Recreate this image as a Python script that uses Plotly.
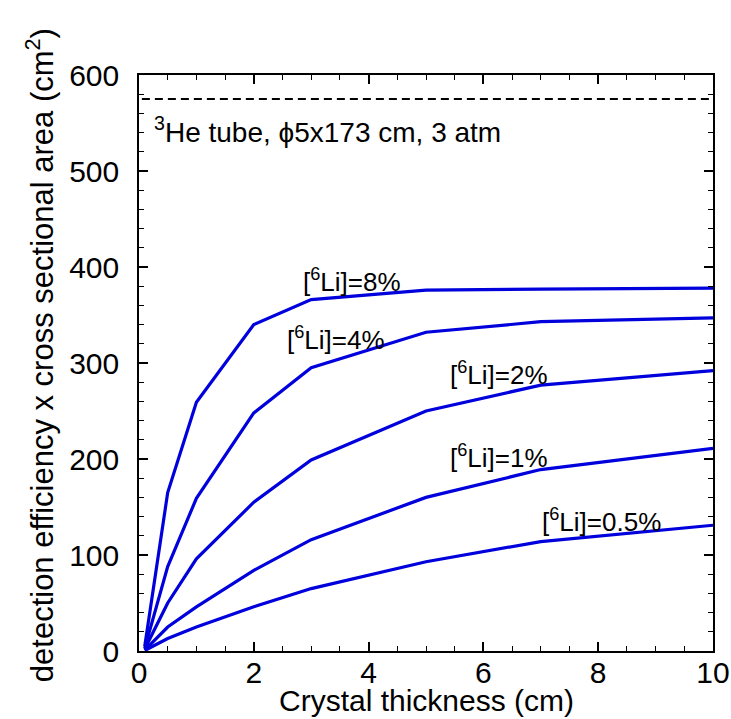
import plotly.graph_objects as go

thickness = [0.1, 0.5, 1, 2, 3, 5, 7, 10]
li8 = [5, 165, 259, 340, 366, 376, 377, 378]
li4 = [3, 88, 159, 248, 295, 332, 343, 347]
li2 = [2, 50, 96, 155, 199, 250, 277, 292]
li1 = [1, 25, 46, 84, 116, 160, 189, 211]
li05 = [0.5, 13, 25, 46, 65, 93, 114, 131]
series = [li8, li4, li2, li1, li05]

he_x = [0.05, 10]
he_y = [575, 575]

labels = ["[<sup>6</sup>Li]=8%", "[<sup>6</sup>Li]=4%", "[<sup>6</sup>Li]=2%",
          "[<sup>6</sup>Li]=1%", "[<sup>6</sup>Li]=0.5%"]
label_x = [3.71, 3.43, 6.27, 6.27, 8.05]
label_y = [386, 326, 289, 203, 136]

x_title = "Crystal thickness (cm)"
y_title = "detection efficiency x cross sectional area (cm<sup>2</sup>)"

FONT = "Liberation Sans, Arial, sans-serif"
BLUE = "#0000DD"

fig = go.Figure()
for s in series:
    fig.add_trace(go.Scatter(x=thickness, y=s, mode="lines",
                             line=dict(color=BLUE, width=3.2), showlegend=False))
fig.add_trace(go.Scatter(x=he_x, y=he_y, mode="lines",
                         line=dict(color="black", width=2, dash="8px,5px"),
                         showlegend=False))

for t, lx, ly in zip(labels, label_x, label_y):
    fig.add_annotation(x=lx, y=ly, text=t, showarrow=False,
                       font=dict(family=FONT, size=26, color="black"))
fig.add_annotation(x=0.23, y=543, xanchor="left", text="<sup>3</sup>He tube, ϕ5x173 cm, 3 atm",
                   showarrow=False, font=dict(family=FONT, size=28, color="black"))

# axis titles
fig.add_annotation(xref="paper", yref="paper", x=0.5, y=-(700 - 651) / 576, yanchor="middle",
                   text=x_title, showarrow=False, borderpad=0,
                   font=dict(family=FONT, size=30, color="black"))
fig.add_annotation(xref="paper", yref="paper", x=-0.172, y=0.514, xanchor="center",
                   yanchor="middle", textangle=-90, text=y_title, showarrow=False,
                   font=dict(family=FONT, size=31, color="black"))

axis_common = dict(showgrid=False, zeroline=False, showline=True, linecolor="black",
                   linewidth=1.5, mirror="ticks", ticks="inside", ticklen=9,
                   tickwidth=1.5, tickcolor="black", automargin=False,
                   tickfont=dict(family=FONT, size=30, color="black"))

fig.update_xaxes(range=[0, 10], dtick=2, tick0=0,
                 minor=dict(dtick=0.5, ticks="inside", ticklen=5, tickcolor="black", tickwidth=1),
                 ticklabelstandoff=-6,
                 **axis_common)
fig.update_yaxes(range=[0, 600], dtick=100, tick0=0,
                 minor=dict(dtick=20, ticks="inside", ticklen=5, tickcolor="black", tickwidth=1),
                 ticklabelstandoff=12,
                 **axis_common)

fig.update_layout(width=731, height=719, margin=dict(l=139, r=18, t=75, b=68),
                  plot_bgcolor="white", paper_bgcolor="white")

fig.write_html("out.html")
